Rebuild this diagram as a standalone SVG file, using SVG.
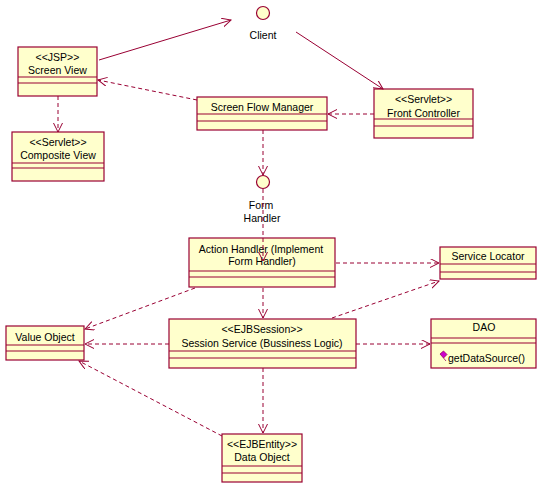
<svg xmlns="http://www.w3.org/2000/svg" width="540" height="488" viewBox="0 0 540 488">
<style>
.box{fill:#FFFFCC;stroke:#990033;stroke-width:1.2}
.sep{stroke:#990033;stroke-width:1.2;fill:none}
.ifc{fill:#FFFFCC;stroke:#990033;stroke-width:1.2}
text{font-family:"Liberation Sans",Arial,sans-serif;font-size:10.5px;fill:#000;text-anchor:middle}
.dep{fill:none;stroke:#990033;stroke-width:1;stroke-dasharray:4,3;marker-end:url(#open)}
.asc{fill:none;stroke:#990033;stroke-width:1;marker-end:url(#open)}
</style>
<defs>
<marker id="open" markerUnits="userSpaceOnUse" markerWidth="12" markerHeight="12" refX="9" refY="4.5" orient="auto" viewBox="0 0 12 12">
<path d="M0,0 L9,4.5 L0,9" fill="none" stroke="#990033" stroke-width="1"/>
</marker>
</defs>
<rect width="540" height="488" fill="#FFFFFF"/>
<g id="client">
<circle class="ifc" cx="263" cy="13" r="6.5"/>
<text x="263" y="39">Client</text>
</g>
<g id="screen-view">
<rect class="box" x="18" y="47" width="79" height="49"/>
<path class="sep" d="M18,77 H97 M18,83 H97"/>
<text x="57.5" y="61">&lt;&lt;JSP&gt;&gt;</text>
<text x="57.5" y="74">Screen View</text>
</g>
<g id="composite-view">
<rect class="box" x="12" y="132" width="92" height="49"/>
<path class="sep" d="M12,163 H104 M12,168 H104"/>
<text x="58" y="146">&lt;&lt;Servlet&gt;&gt;</text>
<text x="58" y="159">Composite View</text>
</g>
<g id="screen-flow-manager">
<rect class="box" x="197" y="97" width="130" height="33"/>
<path class="sep" d="M197,114 H327 M197,121 H327"/>
<text x="262" y="111">Screen Flow Manager</text>
</g>
<g id="front-controller">
<rect class="box" x="374" y="89" width="99" height="49"/>
<path class="sep" d="M374,119 H473 M374,126 H473"/>
<text x="423.5" y="103">&lt;&lt;Servlet&gt;&gt;</text>
<text x="423.5" y="117">Front Controller</text>
</g>
<g id="form-handler">
<circle class="ifc" cx="263" cy="182" r="6.5"/>
<text x="261" y="209">Form</text>
<text x="262" y="222">Handler</text>
</g>
<g id="action-handler">
<rect class="box" x="189" y="238" width="146" height="49"/>
<path class="sep" d="M189,271 H335 M189,277 H335"/>
<text x="261" y="253">Action Handler (Implement</text>
<text x="262" y="265">Form Handler)</text>
</g>
<g id="service-locator">
<rect class="box" x="440" y="247" width="96" height="32"/>
<path class="sep" d="M440,264 H536 M440,272 H536"/>
<text x="488" y="260">Service Locator</text>
</g>
<g id="value-object">
<rect class="box" x="6" y="326" width="78" height="34"/>
<path class="sep" d="M6,345 H84 M6,351 H84"/>
<text x="45" y="341">Value Object</text>
</g>
<g id="session-service">
<rect class="box" x="169" y="319" width="187" height="49"/>
<path class="sep" d="M169,351 H356 M169,358 H356"/>
<text x="262" y="333">&lt;&lt;EJBSession&gt;&gt;</text>
<text x="262" y="347">Session Service (Bussiness Logic)</text>
</g>
<g id="dao">
<rect class="box" x="431" y="319" width="105" height="49"/>
<path class="sep" d="M431,338 H536 M431,343 H536"/>
<text x="484" y="331">DAO</text>
<path d="M440,354 L443.5,351 L447,354.5 L443.5,358 Z M443.5,358 L446,361" fill="#CC00CC" stroke="#990066" stroke-width="0.8"/>
<text x="448" y="362" style="text-anchor:start">getDataSource()</text>
</g>
<g id="data-object">
<rect class="box" x="222" y="434" width="80" height="48"/>
<path class="sep" d="M222,466 H302 M222,473 H302"/>
<text x="262" y="448">&lt;&lt;EJBEntity&gt;&gt;</text>
<text x="262" y="461">Data Object</text>
</g>
<g id="connectors">
<path class="asc" d="M99,60 L231,20"/>
<path class="asc" d="M296,32 L383,89"/>
<path class="dep" d="M197,100 L98,80"/>
<path class="dep" d="M58,96 L58,132"/>
<path class="dep" d="M374,114 L328,114"/>
<path class="dep" d="M263,130 L263,175"/>
<path class="dep" d="M263,189 L263,261"/>
<path class="dep" d="M336,263 L439,263"/>
<path class="dep" d="M195,288 L85,329"/>
<path class="dep" d="M263,288 L263,318"/>
<path class="dep" d="M332,318 L439,281"/>
<path class="dep" d="M169,344 L85,344"/>
<path class="dep" d="M356,344 L430,344"/>
<path class="dep" d="M263,368 L263,433"/>
<path class="dep" d="M222,436 L79,361"/>
</g>
</svg>
